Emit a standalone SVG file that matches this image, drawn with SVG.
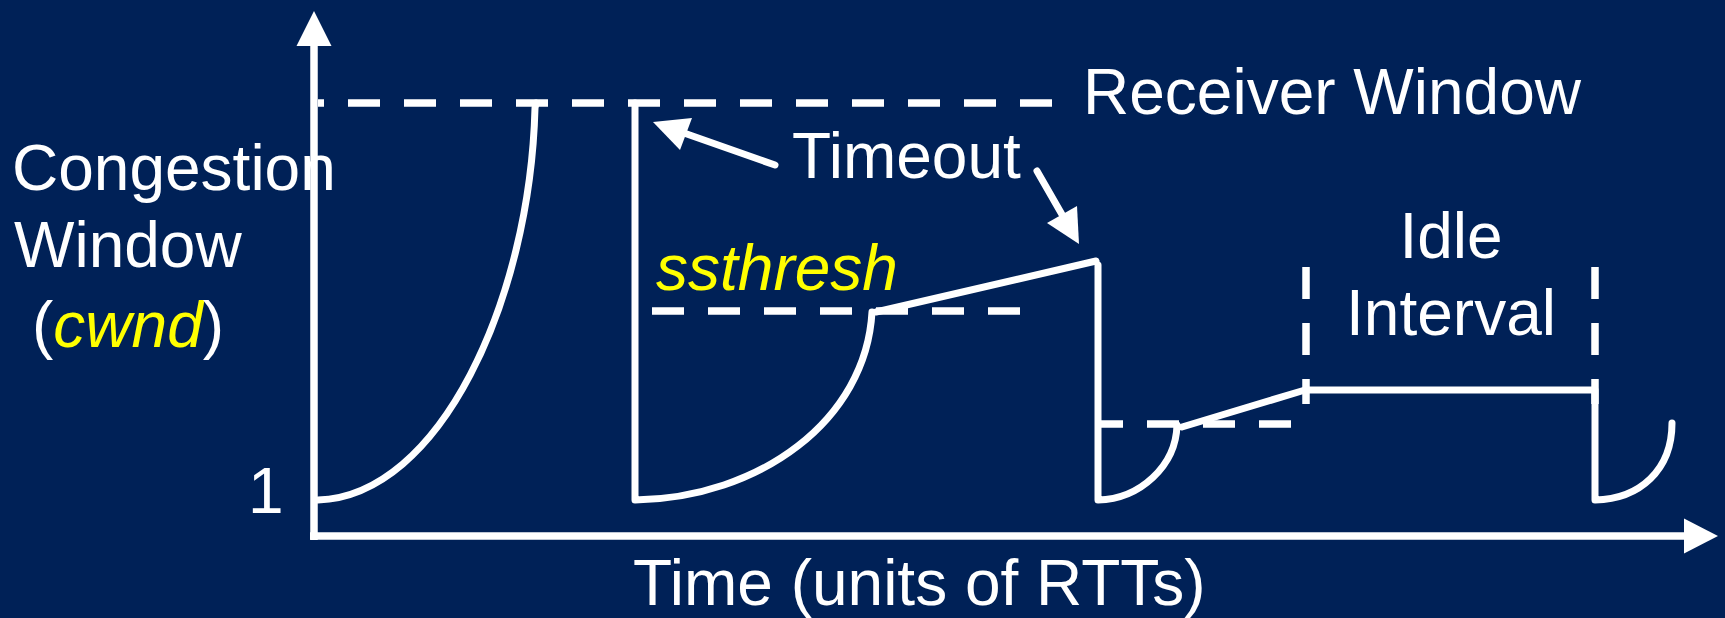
<svg xmlns="http://www.w3.org/2000/svg" width="1725" height="618" viewBox="0 0 1725 618">
  <defs>
    <style>
      .txt { font-family: "Liberation Sans", Arial, sans-serif; font-size: 64px; fill: #ffffff; }
      .em { font-style: italic; fill: #ffff00; }
      .solid { fill: none; stroke: #ffffff; stroke-width: 7; stroke-linecap: round; stroke-linejoin: round; }
      .axis { fill: none; stroke: #ffffff; stroke-width: 7.5; }
      .dash { fill: none; stroke: #ffffff; stroke-width: 7.5; stroke-dasharray: 32 24; }
      .head { fill: #ffffff; }
    </style>
  </defs>

  <rect width="1725" height="618" fill="#002157"/>

  <!-- axes -->
  <g id="axes">
    <line class="axis" x1="314" y1="40" x2="314" y2="540"/>
    <polygon class="head" points="314,11 331.5,46 296.5,46"/>
    <line class="axis" x1="310" y1="536" x2="1690" y2="536"/>
    <polygon class="head" points="1718,536 1684,518.5 1684,553.5"/>
  </g>

  <!-- reference levels -->
  <g id="receiver-window-level">
    <line class="dash" x1="318" y1="103" x2="1053" y2="103" stroke-dashoffset="26"/>
  </g>
  <g id="ssthresh-levels">
    <line class="dash" x1="652" y1="311" x2="1020" y2="311"/>
    <line class="dash" x1="1098" y1="424" x2="1292" y2="424" stroke-dashoffset="7"/>
  </g>
  <g id="idle-markers">
    <line class="dash" x1="1306" y1="267" x2="1306" y2="404"/>
    <line class="dash" x1="1595" y1="267" x2="1595" y2="404"/>
  </g>

  <!-- congestion window trace -->
  <g id="cwnd-trace">
    <path class="solid" d="M318,500 C440,496 530,300 535,108 L536,103"/>
    <path class="solid" d="M635,103 L635,500 C760,498 866,420 872,312"/>
    <path class="solid" d="M876,312 L1096,261"/>
    <path class="solid" d="M1098,265 L1098,500 C1140,499 1176,466 1177,425"/>
    <path class="solid" d="M1182,427 L1305,390 L1595,390 L1595,500 C1640,499 1672,470 1672,423"/>
  </g>

  <!-- timeout pointers -->
  <g id="timeout-pointers">
    <line class="solid" x1="775" y1="165" x2="684" y2="133" stroke-linecap="butt"/>
    <polygon class="head" points="653,122 692,118 680,150"/>
    <line class="solid" x1="1037" y1="171" x2="1064" y2="218" stroke-linecap="butt"/>
    <polygon class="head" points="1079,244 1047,223 1077,206"/>
  </g>

  <!-- labels -->
  <g id="label-receiver-window"><text class="txt" x="1083" y="114">Receiver Window</text></g>
  <g id="label-timeout"><text class="txt" x="792" y="178">Timeout</text></g>
  <g id="label-ssthresh"><text class="txt em" x="656" y="290">ssthresh</text></g>
  <g id="label-idle">
    <text class="txt" x="1451" y="258" text-anchor="middle">Idle</text>
    <text class="txt" x="1451" y="335" text-anchor="middle">Interval</text>
  </g>
  <g id="label-y-axis">
    <text class="txt" x="12" y="190">Congestion</text>
    <text class="txt" x="14" y="267">Window</text>
    <text class="txt" x="32" y="347">(<tspan class="em">cwnd</tspan>)</text>
  </g>
  <g id="label-one"><text class="txt" x="248" y="513">1</text></g>
  <g id="label-x-axis"><text class="txt" x="633" y="605">Time (units of RTTs)</text></g>
</svg>
